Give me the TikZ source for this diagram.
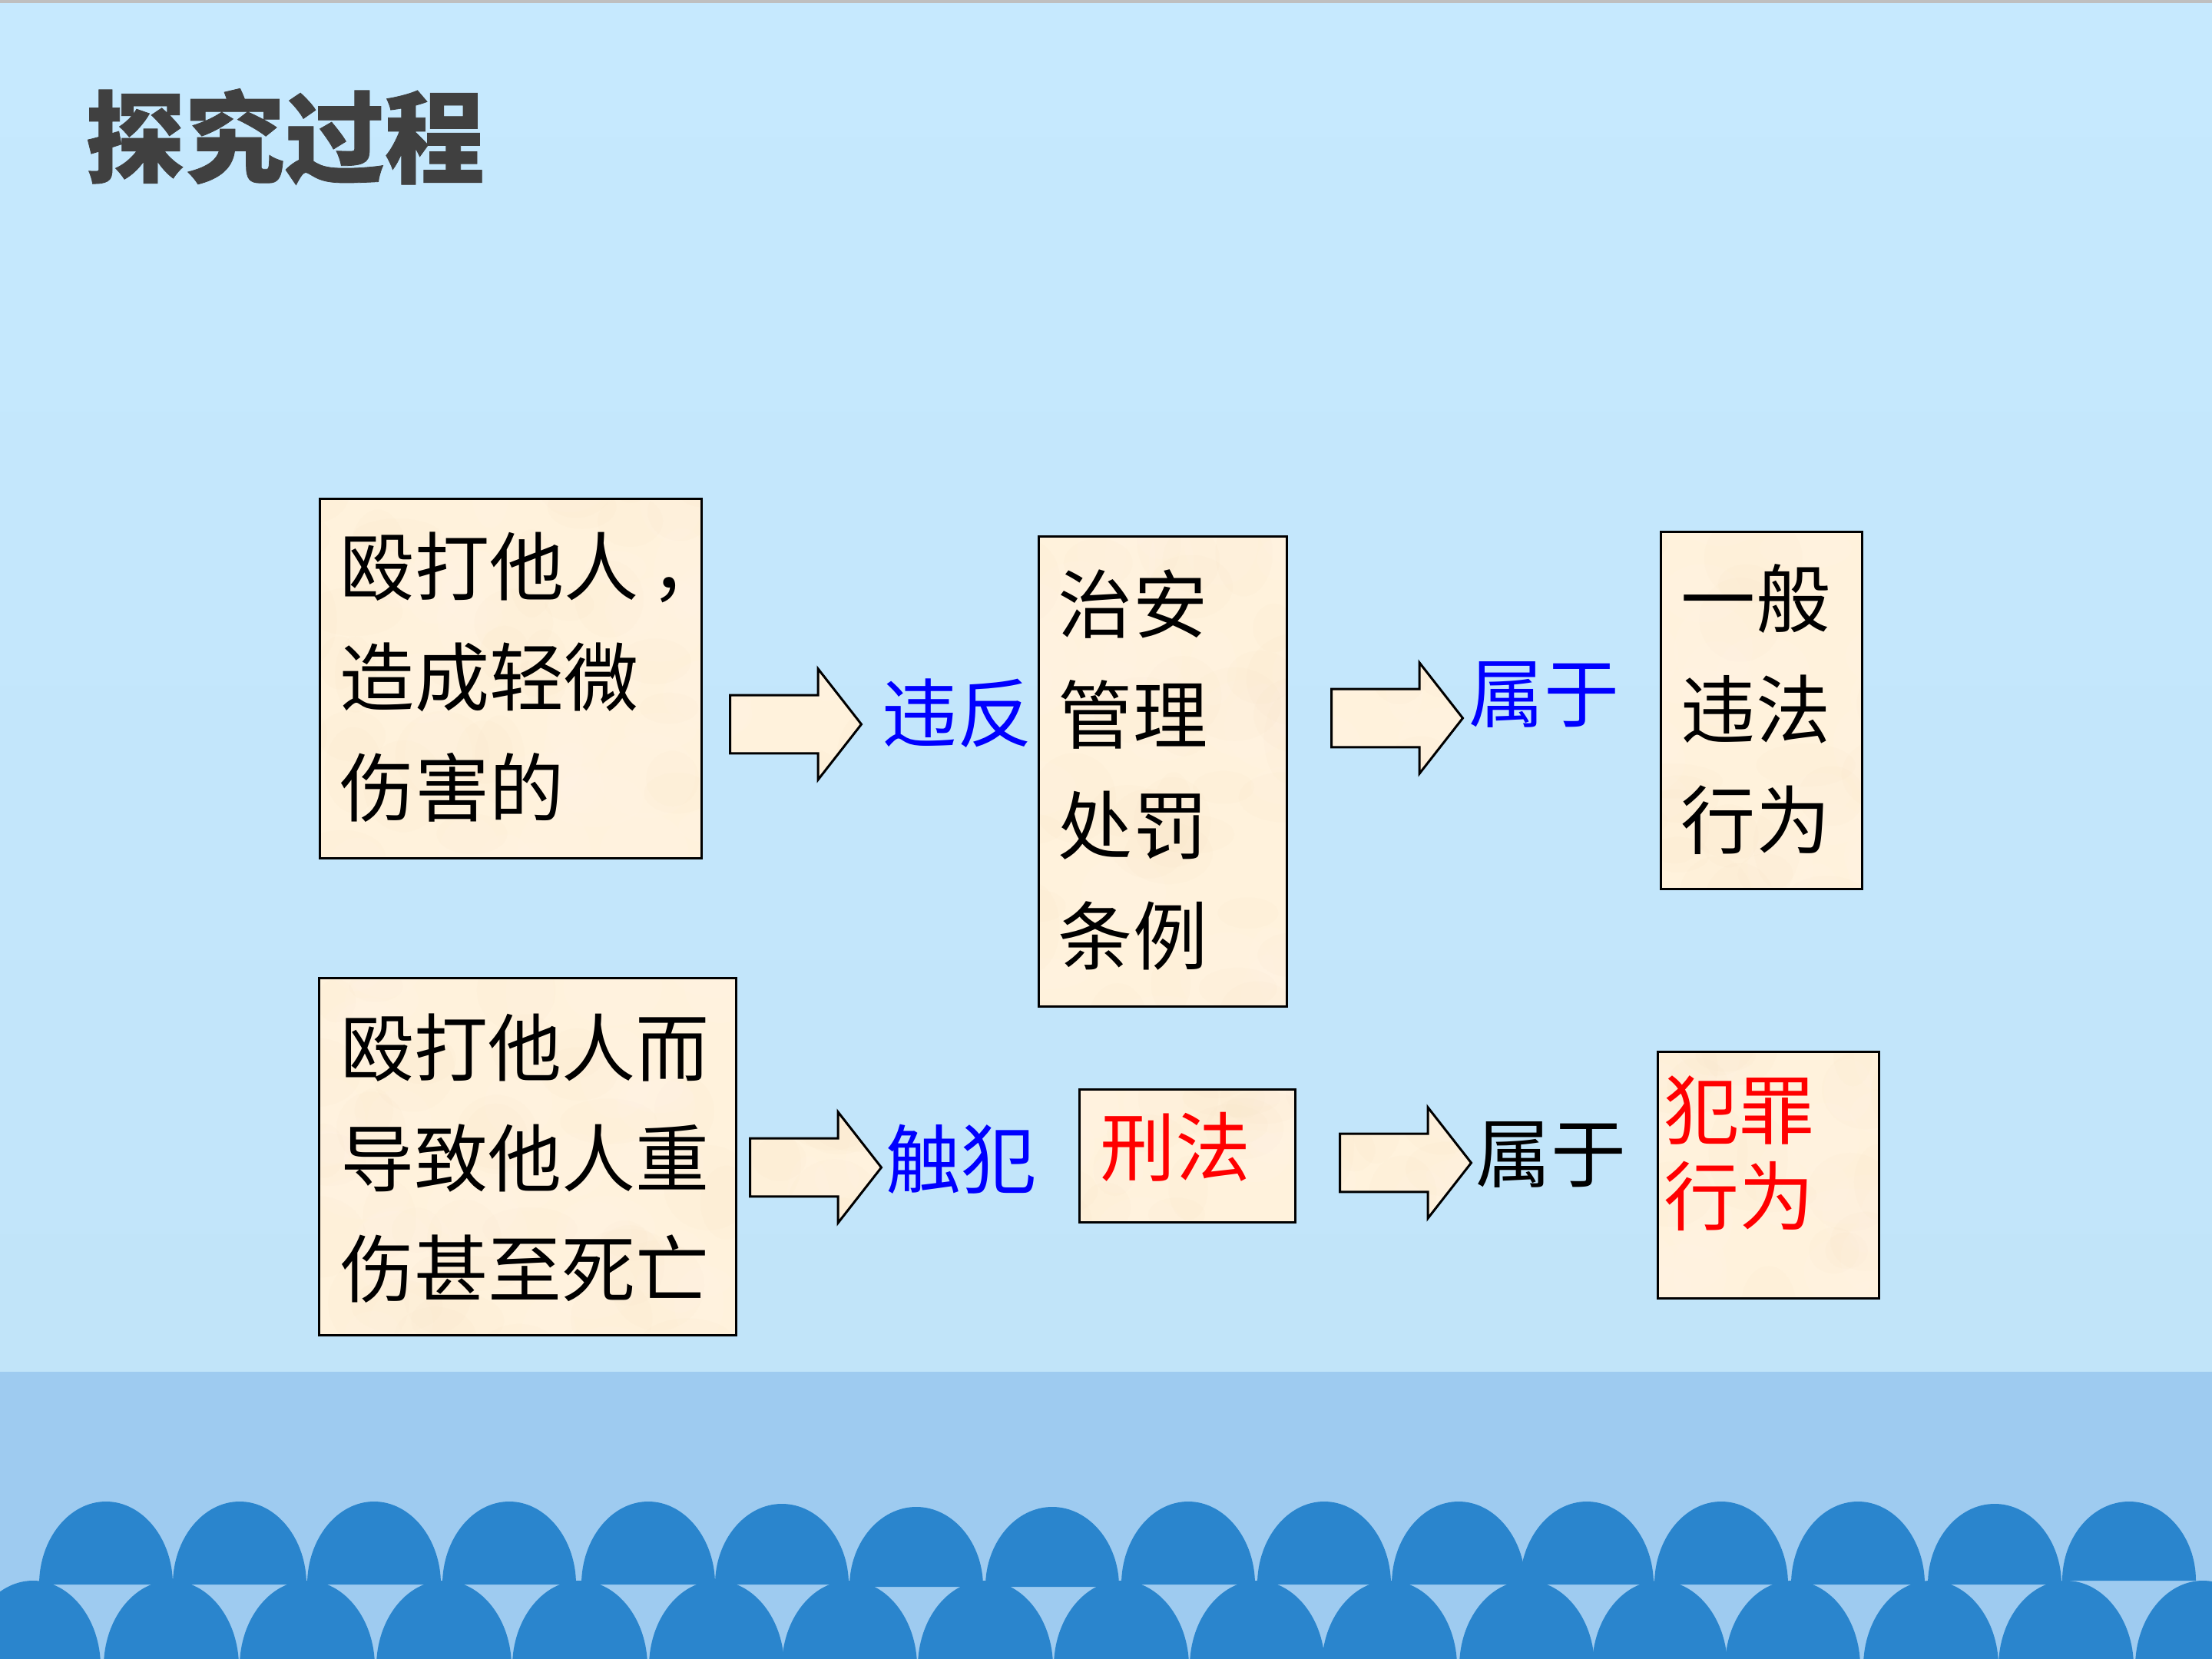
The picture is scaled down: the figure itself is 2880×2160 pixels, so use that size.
\documentclass[tikz,border=0pt]{standalone}
\usepackage{fontspec}
\usetikzlibrary{shapes.arrows}
\newfontfamily\cjk[BoldFeatures={FakeBold=.6}]{Noto Sans CJK SC}
\definecolor{skytop}{HTML}{C6E9FE}
\definecolor{skylow}{HTML}{C1E4F9}
\definecolor{band}{HTML}{9ECBF0}
\definecolor{dome}{HTML}{2A85CD}
\definecolor{paper}{HTML}{FFF2DC}
\definecolor{paperdark}{HTML}{EAD5A8}
\definecolor{titlegrey}{HTML}{404040}
% soft blotches that give the filled shapes a parchment look
\newcommand\parchmentblots{%
  \foreach \k in {1,...,45} {
    \fill[paperdark,opacity=.045] (path picture bounding box.center) ++(rand*280,rand*340)
      ellipse [x radius={25+rnd*40}, y radius={20+rnd*40}];
    \fill[white,opacity=.06] (path picture bounding box.center) ++(rand*280,rand*340)
      ellipse [x radius={25+rnd*40}, y radius={20+rnd*40}];
  }}
\tikzset{
  paperbox/.style={draw=black,line width=.75pt,fill=paper,inner sep=0pt,anchor=north west,
    path picture={\parchmentblots}},
  blockarrow/.style={single arrow,draw=black,line width=.75pt,fill=paper,inner xsep=0pt,inner ysep=9.1pt,anchor=tail,
    minimum height=42.75pt,minimum width=36pt,single arrow head extend=8.6pt,single arrow tip angle=104,
    single arrow head indent=0pt,path picture={\parchmentblots}},
  bodytext/.style={anchor=west,inner sep=0pt,align=left,font=\cjk\fontsize{24.3}{36}\selectfont},
  linktext/.style={anchor=center,inner sep=0pt,font=\cjk\fontsize{24.5}{36}\selectfont},
  titletext/.style={anchor=west,inner sep=0pt,text=titlegrey,font=\cjk\bfseries\fontsize{32.5}{38}\selectfont},
}
% a dome: centre, top and base heights, half width
\newcommand\dome[4]{%
  \fill[dome] (#1-#4,#3) .. controls (#1-#4,{#3-(#3-#2)*.55}) and ({#1-#4*.55},#2) .. (#1,#2)
    .. controls ({#1+#4*.55},#2) and (#1+#4,{#3-(#3-#2)*.55}) .. (#1+#4,#3) -- cycle;}
\begin{document}
\begin{tikzpicture}[x=.25pt,y=-.25pt]
\useasboundingbox (0,0) rectangle (2880,2160);
\clip (0,0) rectangle (2880,2160);
\pgfmathsetseed{41}
% backdrop
\shade[top color=skytop,bottom color=skylow] (0,0) rectangle (2880,1786);
\fill[band] (0,1786) rectangle (2880,2160);
\fill[black!25] (0,0) rectangle (2880,4);
% lower row of domes, then the upper row over it
\foreach \c in {43,223,400,578,755,933,1106,1283,1460,1637,1809,1988,2161,2334,2514,2690,2868}
  {\dome{\c}{2058}{2170}{88}}
\foreach \c/\t/\b in {138/1955/2063,312/1955/2063,487/1955/2063,663/1955/2063,844/1955/2063,
  1018/1958/2063,1193/1962/2066,1370/1962/2066,1547/1955/2063,1724/1955/2063,1899/1955/2063,
  2066/1955/2063,2241/1955/2063,2419/1955/2063,2597/1958/2063,2772/1955/2058}
  {\dome{\c}{\t}{\b}{87}}
% heading
\node[titletext] (heading) at (110,178) {探究过程};
% boxes
\node[paperbox,minimum width=124.25pt,minimum height=117pt] (b1) at (415,648) {};
\node[paperbox,minimum width=80.75pt,minimum height=153pt] (b2) at (1351,697) {};
\node[paperbox,minimum width=65.5pt,minimum height=116.25pt] (b3) at (2161,691) {};
\node[paperbox,minimum width=135.75pt,minimum height=116.25pt] (b4) at (414,1272) {};
\node[paperbox,minimum width=70.25pt,minimum height=43.25pt] (b5) at (1404,1417) {};
\node[paperbox,minimum width=72pt,minimum height=80.25pt] (b6) at (2157,1368) {};
% box texts
\node[bodytext] (t1) at (442,882) {殴打他人\kern4pt，\\造成轻微\\伤害的};
\node[bodytext] (t2) at (1377,1003) {治安\\管理\\处罚\\条例};
\node[bodytext] (t3) at (2188,924) {一般\\违法\\行为};
\node[bodytext,font=\cjk\fontsize{24}{36}\selectfont] (t4) at (443,1508) {殴打他人而\\导致他人重\\伤甚至死亡};
\node[bodytext,text=red,font=\cjk\fontsize{24.5}{36}\selectfont] (t5) at (1432,1493) {刑法};
\node[bodytext,text=red,font=\cjk\fontsize{24.5}{28}\selectfont] (t6) at (2166,1502) {犯罪\\行为};
% block arrows
\node[blockarrow] (a1) at (949,943) {};
\node[blockarrow] (a2) at (1732,935) {};
\node[blockarrow] (a3) at (975,1520) {};
\node[blockarrow] (a4) at (1743,1514) {};
% labels beside the arrows
\node[linktext,text=blue] (l1) at (1246,929) {违反};
\node[linktext,text=blue] (l2) at (2010,904) {属于};
\node[linktext,text=blue] (l3) at (1251,1509) {触犯};
\node[linktext,text=black] (l4) at (2019,1503) {属于};
\end{tikzpicture}
\end{document}
